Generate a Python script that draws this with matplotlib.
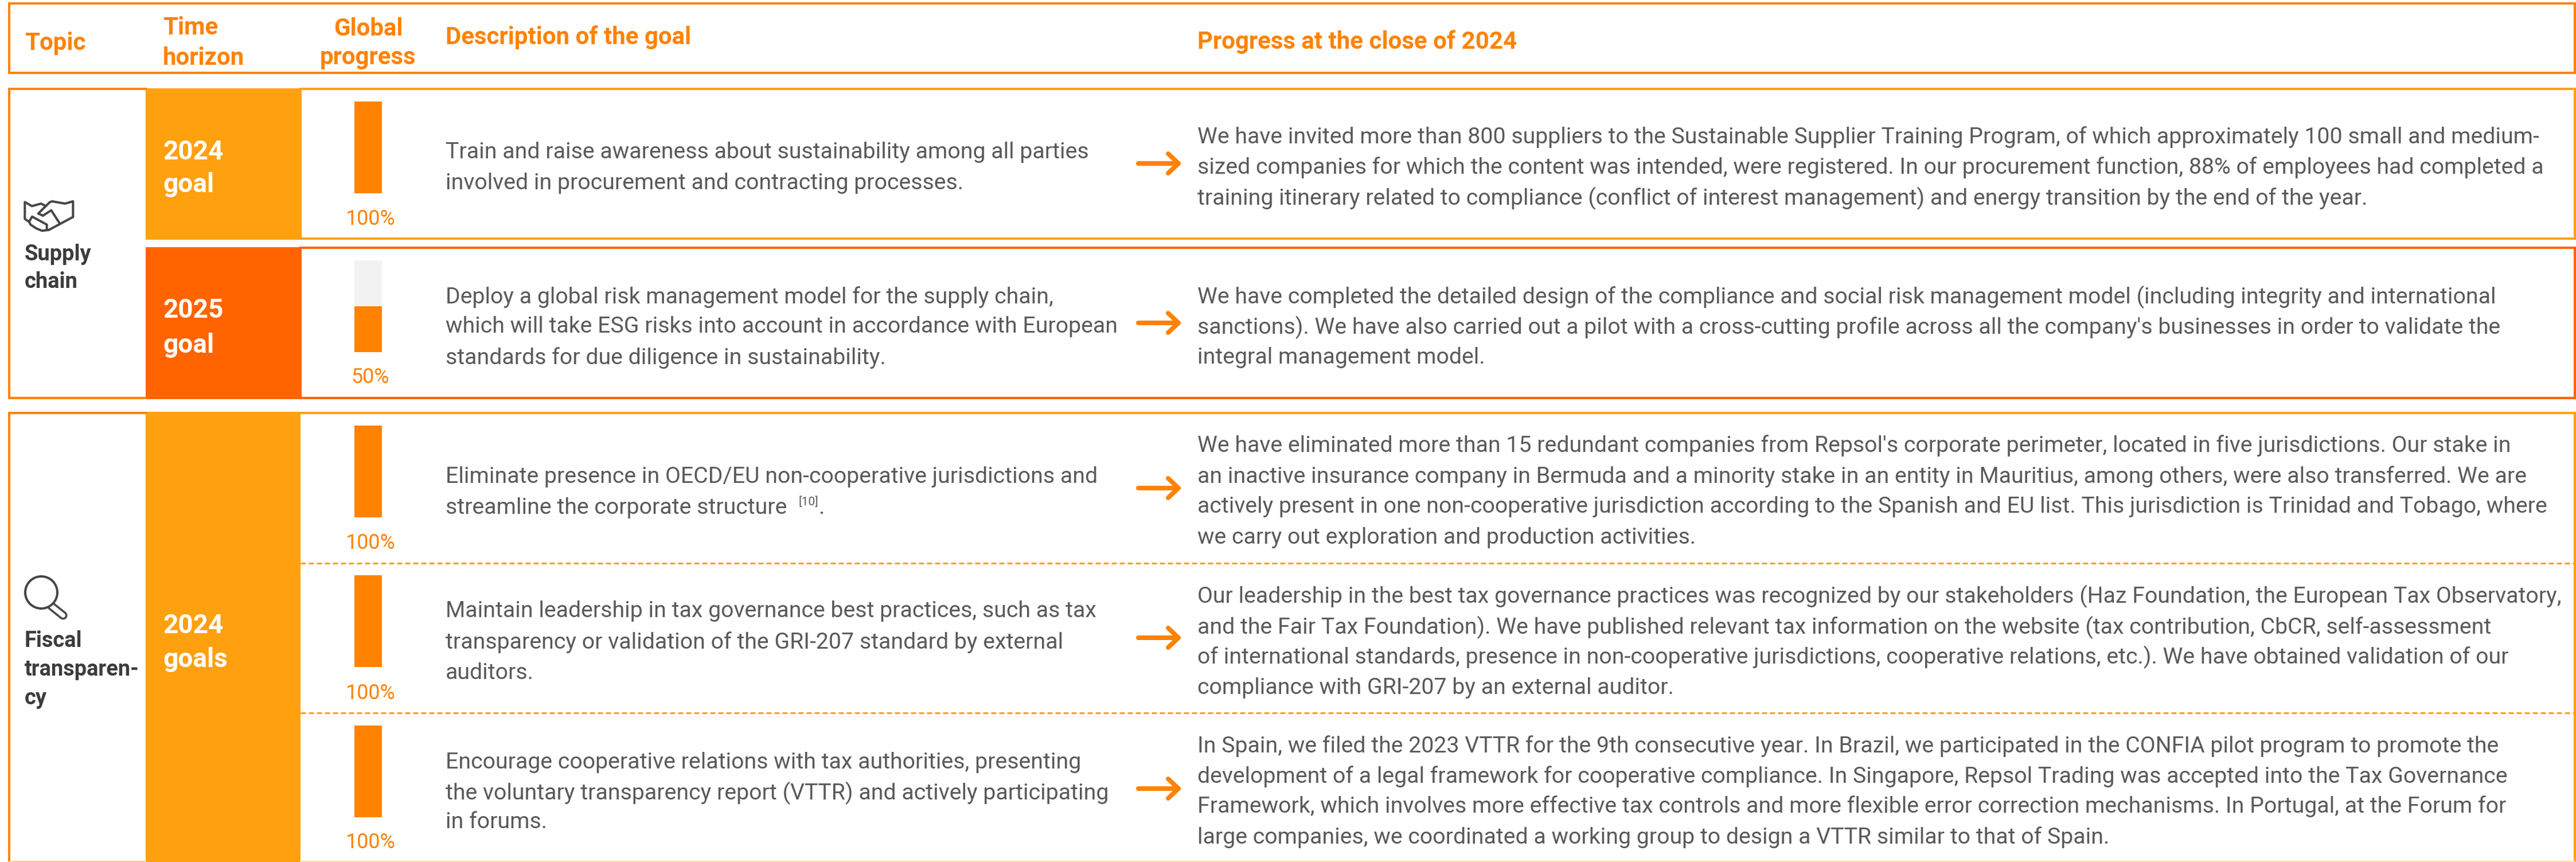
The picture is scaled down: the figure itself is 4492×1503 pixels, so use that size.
import matplotlib
matplotlib.use("Agg")
import matplotlib.pyplot as plt
from matplotlib.patches import Rectangle, Circle
from matplotlib.lines import Line2D

W, H = 4492, 1503
ORANGE = "#FF8200"
AMBER = "#FFA00F"
DEEP = "#FF6400"
DARK = "#3C3C3C"
TEXT = "#5A5A5A"
TRACK = "#F2F2F2"
FONT = ["Roboto", "DejaVu Sans"]

headers = ["Topic", "Time\nhorizon", "Global\nprogress", "Description of the goal", "Progress at the close of 2024"]
topics = ["Supply\nchain", "Fiscal\ntransparen-\ncy"]
horizons = ["2024\ngoal", "2025\ngoal", "2024\ngoals"]
progress = [100, 50, 100, 100, 100]
progress_labels = ["100%", "50%", "100%", "100%", "100%"]
descriptions = [
    ["Train and raise awareness about sustainability among all parties",
     "involved in procurement and contracting processes."],
    ["Deploy a global risk management model for the supply chain,",
     "which will take ESG risks into account in accordance with European",
     "standards for due diligence in sustainability."],
    ["Eliminate presence in OECD/EU non-cooperative jurisdictions and",
     "streamline the corporate structure"],
    ["Maintain leadership in tax governance best practices, such as tax",
     "transparency or validation of the GRI-207 standard by external",
     "auditors."],
    ["Encourage cooperative relations with tax authorities, presenting",
     "the voluntary transparency report (VTTR) and actively participating",
     "in forums."],
]
achievements = [
    ["We have invited more than 800 suppliers to the Sustainable Supplier Training Program, of which approximately 100 small and medium-",
     "sized companies for which the content was intended, were registered. In our procurement function, 88% of employees had completed a",
     "training itinerary related to compliance (conflict of interest management) and energy transition by the end of the year."],
    ["We have completed the detailed design of the compliance and social risk management model (including integrity and international",
     "sanctions). We have also carried out a pilot with a cross-cutting profile across all the company's businesses in order to validate the",
     "integral management model."],
    ["We have eliminated more than 15 redundant companies from Repsol's corporate perimeter, located in five jurisdictions. Our stake in",
     "an inactive insurance company in Bermuda and a minority stake in an entity in Mauritius, among others, were also transferred. We are",
     "actively present in one non-cooperative jurisdiction according to the Spanish and EU list. This jurisdiction is Trinidad and Tobago, where",
     "we carry out exploration and production activities."],
    ["Our leadership in the best tax governance practices was recognized by our stakeholders (Haz Foundation, the European Tax Observatory,",
     "and the Fair Tax Foundation). We have published relevant tax information on the website (tax contribution, CbCR, self-assessment",
     "of international standards, presence in non-cooperative jurisdictions, cooperative relations, etc.). We have obtained validation of our",
     "compliance with GRI-207 by an external auditor."],
    ["In Spain, we filed the 2023 VTTR for the 9th consecutive year. In Brazil, we participated in the CONFIA pilot program to promote the",
     "development of a legal framework for cooperative compliance. In Singapore, Repsol Trading was accepted into the Tax Governance",
     "Framework, which involves more effective tax controls and more flexible error correction mechanisms. In Portugal, at the Forum for",
     "large companies, we coordinated a working group to design a VTTR similar to that of Spain."],
]
footnote_mark = "[10]"

plt.rcParams["lines.scale_dashes"] = False
fig = plt.figure(figsize=(W / 300, H / 300), dpi=300)
ax = fig.add_axes([0, 0, 1, 1])
ax.set_xlim(0, W)
ax.set_ylim(H, 0)
ax.axis("off")
PX = 72 / 300  # points per pixel


def label(x, y, s, em, color=TEXT, weight="normal", ha="left"):
    ax.text(x, y, s, fontsize=em * PX, color=color, family=FONT, fontweight=weight,
            ha=ha, va="center_baseline", zorder=6)


def stroke(xs, ys, color, t, z=4):
    ax.add_line(Line2D(xs, ys, color=color, lw=t * PX, solid_capstyle="round",
                       solid_joinstyle="round", zorder=z))


def frame(x0, y0, x1, y1, color, t=4):
    ax.add_patch(Rectangle((x0, y0), x1 - x0, y1 - y0, fc="none", ec=color, lw=t * PX,
                           joinstyle="miter", zorder=3))


LEFT, RIGHT = 16, 4490
COL1, COL2 = 254, 524
HEAD = 42
EM = 39.3

# Header
frame(LEFT, 6, RIGHT, 127, ORANGE)
label(43, 71, headers[0], HEAD, ORANGE, "bold")
for y, s in zip((44, 97), headers[1].split("\n")):
    label(284, y, s, HEAD, ORANGE, "bold")
for y, s in zip((46, 96), headers[2].split("\n")):
    label(642, y, s, HEAD, ORANGE, "bold", "center")
label(777, 61, headers[3], HEAD, ORANGE, "bold")
label(2088, 69, headers[4], HEAD, ORANGE, "bold")

# Topic column frames
ax.add_line(Line2D([LEFT, LEFT], [155, 694], color=ORANGE, lw=4 * PX, zorder=3))
ax.add_line(Line2D([LEFT, COL1], [155, 155], color=ORANGE, lw=4 * PX, zorder=3))
ax.add_line(Line2D([LEFT, COL1], [694, 694], color=ORANGE, lw=4 * PX, zorder=3))
ax.add_line(Line2D([LEFT, LEFT], [720, H], color=ORANGE, lw=4 * PX, zorder=3))
ax.add_line(Line2D([LEFT, COL1], [720, 720], color=ORANGE, lw=4 * PX, zorder=3))
ax.add_line(Line2D([LEFT, COL1], [1502, 1502], color="#FFC890", lw=2 * PX, zorder=3))

# Horizon blocks
blocks = [(154, 418, AMBER), (431, 696, DEEP), (718, H, AMBER)]
for top, bottom, c in blocks:
    ax.add_patch(Rectangle((COL1, top), COL2 - COL1, bottom - top, fc=c, ec="none", zorder=2))

# Row frames
frame(COL2, 155, RIGHT, 416, AMBER)
frame(COL2, 432, RIGHT, 694, DEEP)
ax.add_line(Line2D([COL2, RIGHT], [720, 720], color=AMBER, lw=4 * PX, zorder=3))
ax.add_line(Line2D([RIGHT, RIGHT], [720, H], color=AMBER, lw=4 * PX, zorder=3))
ax.add_line(Line2D([COL2, RIGHT], [1502, 1502], color="#FFDCA0", lw=2 * PX, zorder=3))
for y in (982, 1243):
    ax.add_line(Line2D([COL2, RIGHT], [y, y], color=AMBER, lw=3 * PX, zorder=3,
                       dashes=(9 * PX, 5 * PX), dash_capstyle="butt"))

# Horizon labels
for (y0, y1), s in zip(((260, 318), (537, 597), (1087, 1145)), horizons):
    a, b = s.split("\n")
    label(284, y0, a, 46, "white", "bold")
    label(284, y1, b, 46, "white", "bold")

# Topic labels
for y, s in zip((440, 487), topics[0].split("\n")):
    label(43, y, s, 38, DARK, "bold")
for y, s in zip((1113, 1163, 1213), topics[1].split("\n")):
    label(43, y, s, 38, DARK, "bold")

# Handshake icon
def hs(points):
    stroke([30 + p[0] / 3 for p in points], [340 + p[1] / 3 for p in points], "#464646", 4)

hs([(62, 140), (40, 125), (40, 37), (77, 58), (125, 45), (150, 58)])
hs([(135, 108), (110, 97), (170, 38), (182, 33), (250, 45), (292, 33), (292, 115),
    (165, 183), (130, 187), (100, 175), (70, 155), (62, 140), (78, 113), (155, 155), (155, 183)])
hs([(135, 108), (178, 80), (220, 145)])

# Magnifier icon
stroke([90, 110], [1057, 1073], "#464646", 15, 4)
stroke([90, 110], [1057, 1073], "white", 8, 4.1)
ax.add_patch(Circle((72, 1033), 28, fc="white", ec="#464646", lw=4 * PX, zorder=4.2))

# Progress bars
BAR_FULL = 160
bar_bottoms = [337, 614, 902, 1163, 1425]
pct_y = [378, 654, 943, 1205, 1465]
ax.bar([642] * 5, [-BAR_FULL] * 5, bottom=bar_bottoms, width=48, color=TRACK, zorder=4)
ax.bar([642] * 5, [-p / 100 * BAR_FULL for p in progress], bottom=bar_bottoms, width=48,
       color=ORANGE, zorder=4.5)
for y, s in zip(pct_y, progress_labels):
    label(646, y, s, 36, ORANGE, "normal", "center")

# Descriptions
desc_y = [[262, 316], [514, 566, 620], [828, 882], [1062, 1116, 1170], [1325, 1378, 1430]]
for ys, lines in zip(desc_y, descriptions):
    for y, s in zip(ys, lines):
        label(777, y, s, EM, TEXT)
label(1392, 873, footnote_mark, 21, TEXT)
label(1427, 882, ".", EM, TEXT)

# Arrows
arrow_y = [285, 563, 851, 1112, 1375]
for y in arrow_y:
    stroke([1985, 2055], [y, y], ORANGE, 8)
    stroke([2037, 2055, 2037], [y - 17, y, y + 17], ORANGE, 8)

# Achievements
ach_y = [[235, 288, 341], [513, 566, 620], [773, 827, 880, 934], [1035, 1089, 1141, 1195],
         [1297, 1350, 1402, 1456]]
for ys, lines in zip(ach_y, achievements):
    for y, s in zip(ys, lines):
        label(2088, y, s, EM, TEXT)

fig.savefig("out.png", dpi=300)
